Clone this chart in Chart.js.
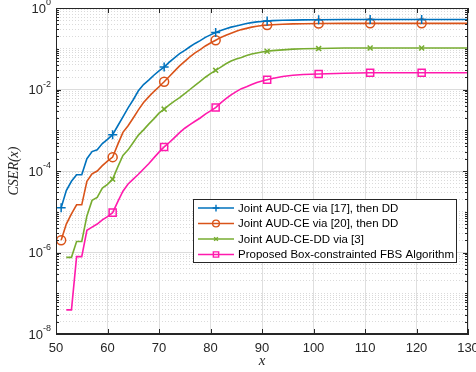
<!DOCTYPE html>
<html>
<head>
<meta charset="utf-8">
<script src="https://cdn.jsdelivr.net/npm/chart.js@4.4.1/dist/chart.umd.min.js"></script>
<style>
html, body { margin: 0; padding: 0; background: #fff; }
#wrap { width: 476px; height: 372px; position: relative; }
</style>
</head>
<body>
<div id="wrap"><canvas id="cser"></canvas></div>
<script>
// x positions of the simulated points
const xs = [51, 52, 53, 54, 55, 56, 57, 58, 59, 60,
            61, 62, 63, 64, 65, 66, 67, 68, 69, 70,
            71, 72, 73, 74, 75, 76, 77, 78, 79, 80,
            81, 82, 83, 84, 85, 86, 87, 88, 89, 90,
            91, 92, 94, 96, 98, 101, 106, 111, 116, 121, 126, 130];

const blueVals = [1.26e-5, 3.3e-5, 5.6e-5, 8.1e-5, 8.1e-5, 2.0e-4, 3.0e-4, 3.3e-4, 4.7e-4, 6.0e-4,
                  7.8e-4, 1.29e-3, 2.14e-3, 3.55e-3, 5.6e-3, 9.3e-3, 0.0132, 0.017, 0.0224, 0.0288,
                  0.0355, 0.0468, 0.060, 0.076, 0.091, 0.112, 0.135, 0.158, 0.19, 0.219,
                  0.251, 0.282, 0.309, 0.339, 0.363, 0.389, 0.417, 0.437, 0.457, 0.468,
                  0.479, 0.49, 0.50, 0.505, 0.51, 0.515, 0.52, 0.52, 0.52, 0.52, 0.52, 0.52];

const orangeVals = [2.0e-6, 5.0e-6, 8.9e-6, 1.48e-5, 1.48e-5, 5.6e-5, 8.5e-5, 1.0e-4, 1.35e-4, 1.74e-4,
                    2.19e-4, 4.5e-4, 8.9e-4, 1.29e-3, 2.0e-3, 3.16e-3, 4.8e-3, 6.6e-3, 8.9e-3, 0.0117,
                    0.0155, 0.0209, 0.0282, 0.038, 0.049, 0.063, 0.079, 0.095, 0.117, 0.138,
                    0.162, 0.19, 0.214, 0.24, 0.269, 0.295, 0.316, 0.339, 0.355, 0.372,
                    0.38, 0.389, 0.398, 0.407, 0.412, 0.417, 0.42, 0.42, 0.42, 0.42, 0.42, 0.42];

const greenVals = [null, 7.6e-7, 7.6e-7, 1.86e-6, 1.86e-6, 7.9e-6, 1.9e-5, 2.24e-5, 3.8e-5, 4.7e-5,
                   6.3e-5, 1.26e-4, 2.4e-4, 3.3e-4, 5.0e-4, 7.6e-4, 1.02e-3, 1.41e-3, 1.9e-3, 2.63e-3,
                   3.3e-3, 4.2e-3, 5.2e-3, 6.3e-3, 7.9e-3, 0.01, 0.0126, 0.0158, 0.02, 0.0245,
                   0.0295, 0.0355, 0.0427, 0.05, 0.056, 0.061, 0.068, 0.074, 0.079, 0.083,
                   0.087, 0.09, 0.094, 0.098, 0.10, 0.101, 0.104, 0.104, 0.104, 0.104, 0.104, 0.104];

const pinkVals = [null, 3.9e-8, 3.9e-8, 7.9e-7, 7.9e-7, 3.5e-6, 4.2e-6, 5.0e-6, 6.3e-6, 7.6e-6,
                  9.5e-6, 1.78e-5, 3.2e-5, 4.8e-5, 6.3e-5, 8.3e-5, 1.12e-4, 1.51e-4, 2.1e-4, 2.9e-4,
                  3.9e-4, 5.0e-4, 6.6e-4, 8.7e-4, 1.12e-3, 1.38e-3, 1.66e-3, 2.0e-3, 2.5e-3, 3.0e-3,
                  3.6e-3, 4.7e-3, 6.0e-3, 7.4e-3, 8.9e-3, 0.0105, 0.0117, 0.0132, 0.0148, 0.0162,
                  0.0174, 0.0186, 0.0209, 0.0224, 0.0234, 0.024, 0.0251, 0.0257, 0.0257, 0.0257, 0.0257, 0.0257];

const seriesNames = ['Joint AUD-CE via [17], then DD',
                     'Joint AUD-CE via [20], then DD',
                     'Joint AUD-CE-DD via [3]',
                     'Proposed Box-constrainted FBS Algorithm'];

const markerXs = [51, 61, 71, 81, 91, 101, 111, 121];
const xTicks = [50, 60, 70, 80, 90, 100, 110, 120, 130];
const yLabelPowers = [-8, -6, -4, -2, 0];

const colors = ['#0072bd', '#d95319', '#77ac30', '#ff1aad'];
const pointStyles = ['cross', 'circle', 'crossRot', 'rect'];
const pointSizes = [4.5, 4.5, 3.5, 5];
const axisColor = '#262626';

// every 1..9 x 10^k position for the log grid
let yGrid = [];
for (let p = -8; p < 0; p++) {
    for (let m = 1; m <= 9; m++) yGrid.push(m * Math.pow(10, p));
}
yGrid.push(1);

function isLabelled(v) {
    const l = Math.log10(v);
    return Math.abs(l - Math.round(l)) < 1e-6 && Math.round(l) % 2 === 0;
}

function drawMarker(ctx, style, x, y, r) {
    ctx.beginPath();
    if (style === 'cross') {
        ctx.moveTo(x - r, y); ctx.lineTo(x + r, y);
        ctx.moveTo(x, y - r); ctx.lineTo(x, y + r);
    } else if (style === 'crossRot') {
        const d = r * Math.SQRT1_2;
        ctx.moveTo(x - d, y - d); ctx.lineTo(x + d, y + d);
        ctx.moveTo(x - d, y + d); ctx.lineTo(x + d, y - d);
    } else if (style === 'circle') {
        ctx.arc(x, y, r, 0, Math.PI * 2);
    } else if (style === 'rect') {
        const s = r * Math.SQRT1_2;
        ctx.rect(x - s, y - s, 2 * s, 2 * s);
    }
    ctx.stroke();
}

const series = [blueVals, orangeVals, greenVals, pinkVals];
const datasets = series.map((vals, i) => ({
    label: seriesNames[i],
    data: xs.map((x, j) => ({ x: x, y: vals[j] })),
    borderColor: colors[i],
    backgroundColor: 'rgba(0,0,0,0)',
    borderWidth: 1.6,
    pointStyle: pointStyles[i],
    pointRadius: ctx => markerXs.includes(xs[ctx.dataIndex]) ? pointSizes[i] : 0,
    pointBorderWidth: 1.5,
    pointBorderColor: colors[i],
    pointBackgroundColor: 'rgba(0,0,0,0)',
    tension: 0
}));

// frame, inward ticks, y labels with exponents, and the boxed legend
const framePlugin = {
    id: 'framePlugin',
    afterDraw(chart) {
        const ctx = chart.ctx;
        const a = chart.chartArea;
        const xs_ = chart.scales.x, ys_ = chart.scales.y;
        ctx.save();
        ctx.strokeStyle = axisColor;
        ctx.lineWidth = 1;
        ctx.strokeRect(Math.round(a.left) + 0.5, Math.round(a.top) + 0.5,
                       Math.round(a.right - a.left) - 1, Math.round(a.bottom - a.top) - 1);

        ctx.beginPath();
        xTicks.forEach(v => {
            const px = Math.round(xs_.getPixelForValue(v)) + 0.5;
            ctx.moveTo(px, a.bottom); ctx.lineTo(px, a.bottom - 5);
            ctx.moveTo(px, a.top); ctx.lineTo(px, a.top + 5);
        });
        yGrid.forEach(v => {
            const py = Math.round(ys_.getPixelForValue(v)) + 0.5;
            const len = isLabelled(v) ? 5 : 3;
            ctx.moveTo(a.left, py); ctx.lineTo(a.left + len, py);
            ctx.moveTo(a.right, py); ctx.lineTo(a.right - len, py);
        });
        ctx.stroke();

        // y tick labels as 10 with a raised exponent
        ctx.fillStyle = axisColor;
        ctx.textBaseline = 'middle';
        ctx.textAlign = 'left';
        yLabelPowers.forEach(p => {
            const py = ys_.getPixelForValue(Math.pow(10, p));
            const exp = String(p);
            ctx.font = '9px "Liberation Sans"';
            const ew = ctx.measureText(exp).width;
            ctx.font = '13px "Liberation Sans"';
            const bw = ctx.measureText('10').width;
            const right = a.left - 5;
            ctx.fillText('10', right - ew - bw, py + 1);
            ctx.font = '9px "Liberation Sans"';
            ctx.fillText(exp, right - ew, py - 5);
        });

        // legend
        const lx = 193, ly = 199, lw = 263, lh = 63;
        ctx.fillStyle = '#ffffff';
        ctx.fillRect(lx, ly, lw, lh);
        ctx.strokeStyle = axisColor;
        ctx.lineWidth = 1;
        ctx.strokeRect(lx + 0.5, ly + 0.5, lw, lh);
        chart.data.datasets.forEach((ds, i) => {
            const y = ly + 9 + i * 15.5;
            ctx.strokeStyle = ds.borderColor;
            ctx.lineWidth = 1.6;
            ctx.beginPath();
            ctx.moveTo(lx + 5, y); ctx.lineTo(lx + 41, y);
            ctx.stroke();
            ctx.lineWidth = 1.4;
            drawMarker(ctx, pointStyles[i], lx + 23, y, pointSizes[i] * 0.75);
            ctx.fillStyle = '#000';
            ctx.font = '11.5px "Liberation Sans"';
            ctx.textBaseline = 'middle';
            ctx.fillText(ds.label, lx + 45, y + 0.5);
        });
        ctx.restore();
    }
};

new Chart(document.getElementById('cser'), {
    type: 'line',
    data: { datasets: datasets },
    options: {
        responsive: true,
        maintainAspectRatio: false,
        animation: false,
        devicePixelRatio: 1,
        layout: { padding: { top: 8, right: 8, left: 0, bottom: 0 }, autoPadding: false },
        plugins: { legend: { display: false }, tooltip: { enabled: false } },
        scales: {
            x: {
                type: 'linear',
                min: 50,
                max: 130,
                afterBuildTicks: s => { s.ticks = xTicks.map(v => ({ value: v })); },
                afterFit: s => { s.height = 38; s.paddingLeft = 0; s.paddingRight = 0; },
                grid: { color: '#dfdfdf', lineWidth: 1, drawTicks: false },
                border: { display: true, color: axisColor, width: 1 },
                ticks: {
                    color: axisColor,
                    font: { family: 'Liberation Sans', size: 13 },
                    padding: 7,
                    maxRotation: 0,
                    autoSkip: false
                },
                title: {
                    display: true,
                    text: 'x',
                    color: axisColor,
                    font: { family: 'Liberation Serif', size: 15, style: 'italic' },
                    padding: { top: 0, bottom: 2 }
                }
            },
            y: {
                type: 'logarithmic',
                min: 1e-8,
                max: 1,
                afterBuildTicks: s => { s.ticks = yGrid.map(v => ({ value: v })); },
                afterFit: s => { s.width = 56; s.paddingTop = 0; s.paddingBottom = 0; },
                grid: {
                    color: ctx => (ctx.tick && isLabelled(ctx.tick.value)) ? '#dcdcdc' : '#dadada',
                    lineWidth: 1,
                    drawTicks: false
                },
                border: {
                    display: true,
                    color: axisColor,
                    width: 1,
                    dash: ctx => (ctx.tick && !isLabelled(ctx.tick.value)) ? [1, 2] : []
                },
                ticks: { display: false },
                title: {
                    display: true,
                    text: 'CSER(x)',
                    color: axisColor,
                    font: { family: 'Liberation Serif', size: 14, style: 'italic' },
                    padding: { top: 6, bottom: 0 }
                }
            }
        }
    },
    plugins: [framePlugin]
});
</script>
</body>
</html>
